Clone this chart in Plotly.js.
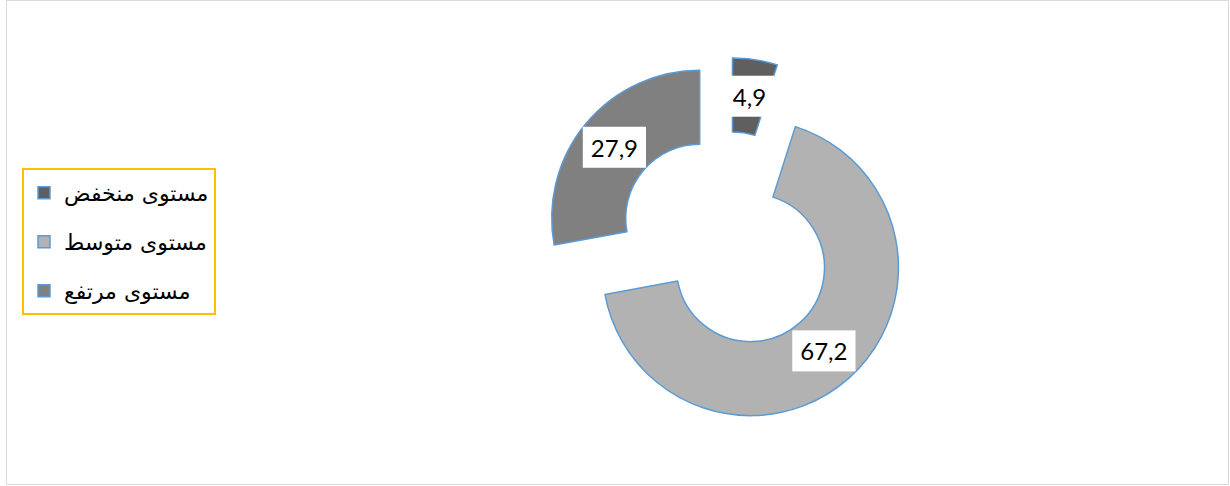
<!DOCTYPE html>
<html>
<head>
<meta charset="utf-8">
<script src="https://cdn.plot.ly/plotly-3.0.1.min.js"></script>
<style>html,body{margin:0;padding:0;background:#fff;}#chart{width:1230px;height:486px;}</style>
</head>
<body>
<div id="chart"></div>
<script>
const categories = ["مستوى منخفض", "مستوى متوسط", "مستوى مرتفع"];
const values = [4.9, 67.2, 27.9];
const valueLabels = ["4,9", "67,2", "27,9"];
const sliceColors = ["#5f5f5f", "#b2b2b2", "#808080"];

const W = 1230, H = 486;
const HOLE = 0.5;
const PULL = 0.24;

const trace = {
  type: "pie",
  labels: categories,
  values: values,
  text: valueLabels,
  textinfo: "text",
  textposition: "inside",
  insidetextorientation: "horizontal",
  textfont: {family: "Lato, 'Open Sans', sans-serif", size: 24, color: "#000000"},
  hole: HOLE,
  pull: PULL,
  sort: false,
  direction: "clockwise",
  rotation: 0,
  marker: {colors: sliceColors, line: {color: "#5b9bd5", width: 1.5}},
  domain: {x: [543.5 / W, 910.5 / W], y: [1 - 424.5 / H, 1 - 57.5 / H]},
  hoverinfo: "none"
};

const layout = {
  width: W, height: H,
  margin: {l: 0, r: 0, t: 0, b: 0},
  paper_bgcolor: "#ffffff",
  showlegend: true,
  uniformtext: {mode: "show", minsize: 24},
  legend: {
    x: 22 / W, xanchor: "left",
    y: 1 - 168 / H, yanchor: "top",
    bordercolor: "#ffc000", borderwidth: 2, bgcolor: "#ffffff",
    font: {family: "'DejaVu Sans', sans-serif", size: 22, color: "#000000"},
    traceorder: "normal"
  },
  shapes: [{
    type: "rect", xref: "paper", yref: "paper",
    x0: 6.5 / W, x1: 1228.5 / W, y0: 1 - 484.5 / H, y1: 1 - 0.5 / H,
    line: {color: "#d9d9d9", width: 1}, fillcolor: "rgba(0,0,0,0)", layer: "below"
  }]
};

Plotly.newPlot("chart", [trace], layout, {staticPlot: true, displayModeBar: false}).then(function (gd) {
  const NS = "http://www.w3.org/2000/svg";
  const cd0 = gd.calcdata[0][0];
  const pullV = gd._fullData[0].pull;
  // centre each value label on the radial middle of its (pulled) slice, with a white box behind
  gd.querySelectorAll("g.slicetext text").forEach(function (t) {
    const sliceG = t.closest("g.slice");
    const pt = sliceG && sliceG.__data__ ? (Array.isArray(sliceG.__data__) ? sliceG.__data__[0] : sliceG.__data__) : null;
    const bb = t.getBBox();
    if (pt && pt.pxmid) {
      const pull = Array.isArray(pullV) ? (pullV[pt.i] || 0) : (pullV || 0);
      const k = pull + (1 + HOLE) / 2;
      const tx = cd0.cx + pt.pxmid[0] * k;
      const ty = cd0.cy + pt.pxmid[1] * k;
      t.setAttribute("transform", "translate(" + (tx - (bb.x + bb.width / 2)) + "," + (ty - (bb.y + bb.height / 2)) + ")");
    }
    const r = document.createElementNS(NS, "rect");
    const px = 8, py = 6;
    r.setAttribute("x", bb.x - px);
    r.setAttribute("y", bb.y - py);
    r.setAttribute("width", bb.width + 2 * px);
    r.setAttribute("height", bb.height + 2 * py);
    r.setAttribute("fill", "#ffffff");
    const tr = t.getAttribute("transform");
    if (tr) r.setAttribute("transform", tr);
    t.parentNode.insertBefore(r, t);
  });
  // spread legend entries
  const items = gd.querySelectorAll("g.legend g.traces");
  const gap = 49;
  let first = null;
  items.forEach(function (g, i) {
    const m = /translate\(\s*([-\d.]+)[ ,]+([-\d.]+)\s*\)/.exec(g.getAttribute("transform") || "");
    if (!m) return;
    if (first === null) first = parseFloat(m[2]) + 2;
    g.setAttribute("transform", "translate(" + m[1] + "," + (first + i * gap) + ")");
  });
  const bg = gd.querySelector("g.legend rect.bg");
  const boxH = 145;
  if (bg) bg.setAttribute("height", boxH);
  gd.querySelectorAll("clipPath[id*='legend'] rect").forEach(function (c) {
    c.setAttribute("height", boxH);
  });
});
</script>
</body>
</html>
